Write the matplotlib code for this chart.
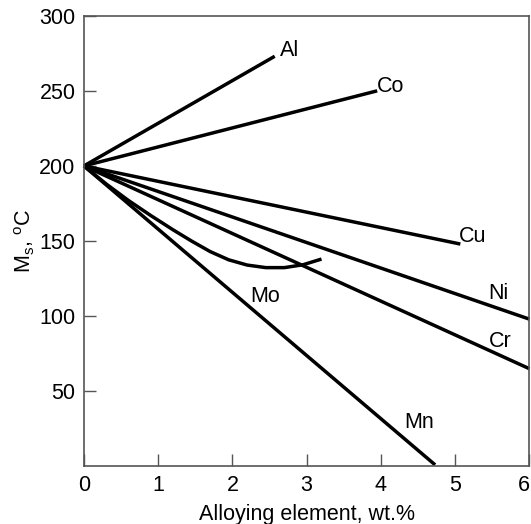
import numpy as np
import matplotlib
matplotlib.use("Agg")
import matplotlib.pyplot as plt

plt.rcParams['font.family'] = ['Liberation Sans', 'DejaVu Sans']
plt.rcParams['mathtext.fontset'] = 'custom'
plt.rcParams['mathtext.rm'] = 'Liberation Sans'
plt.rcParams['mathtext.it'] = 'Liberation Sans'

# Ms temperature vs alloying content
al_x = [0, 2.57]
al_y = [200, 273]
co_x = [0, 3.95]
co_y = [200, 250]
cu_x = [0, 5.07]
cu_y = [200, 148]
ni_x = [0, 6.0]
ni_y = [200, 98]
cr_x = [0, 6.0]
cr_y = [200, 65]
mn_x = [0, 4.73]
mn_y = [200, 1]
mo_x = [0, 0.3, 0.6, 0.9, 1.2, 1.45, 1.7, 1.95, 2.2, 2.45, 2.7, 2.95, 3.2]
mo_y = [200, 188, 177, 167, 157.5, 150, 143, 137.5, 134, 132.3, 132.3, 134.2, 138]

labels = ['Al', 'Co', 'Cu', 'Ni', 'Cr', 'Mo', 'Mn']
label_x = [2.64, 3.94, 5.05, 5.45, 5.45, 2.24, 4.31]
label_y = [277, 253, 153, 115, 83, 113, 29]

fig = plt.figure(figsize=(5.31, 5.24), dpi=100)
ax = fig.add_axes([0.158, 0.11, 0.839, 0.86])

for xs, ys in [(al_x, al_y), (co_x, co_y), (cu_x, cu_y), (ni_x, ni_y),
               (cr_x, cr_y), (mn_x, mn_y), (mo_x, mo_y)]:
    ax.plot(xs, ys, color='black', lw=2.5, solid_capstyle='butt',
            solid_joinstyle='round', clip_on=False)

for t, lx, ly in zip(labels, label_x, label_y):
    ax.text(lx, ly, t, fontsize=15.5, ha='left', va='center')

ax.set_xlim(0, 6)
ax.set_ylim(0, 300)
ax.set_xticks([0, 1, 2, 3, 4, 5, 6])
ax.set_yticks([50, 100, 150, 200, 250, 300])
ax.tick_params(direction='in', length=8.5, width=1, color='#555555',
               labelsize=15.5, pad=6)
ax.get_xticklabels()[-1].set_horizontalalignment('right')
for s in ax.spines.values():
    s.set_color('#555555')
    s.set_linewidth(1.2)

ax.set_xlabel('Alloying element, wt.%', fontsize=15.5, labelpad=6)
ax.set_ylabel(r'M$_\mathrm{s}$, $^\mathrm{o}$C', fontsize=15.5, labelpad=2)

fig.savefig('out.png', dpi=100)
